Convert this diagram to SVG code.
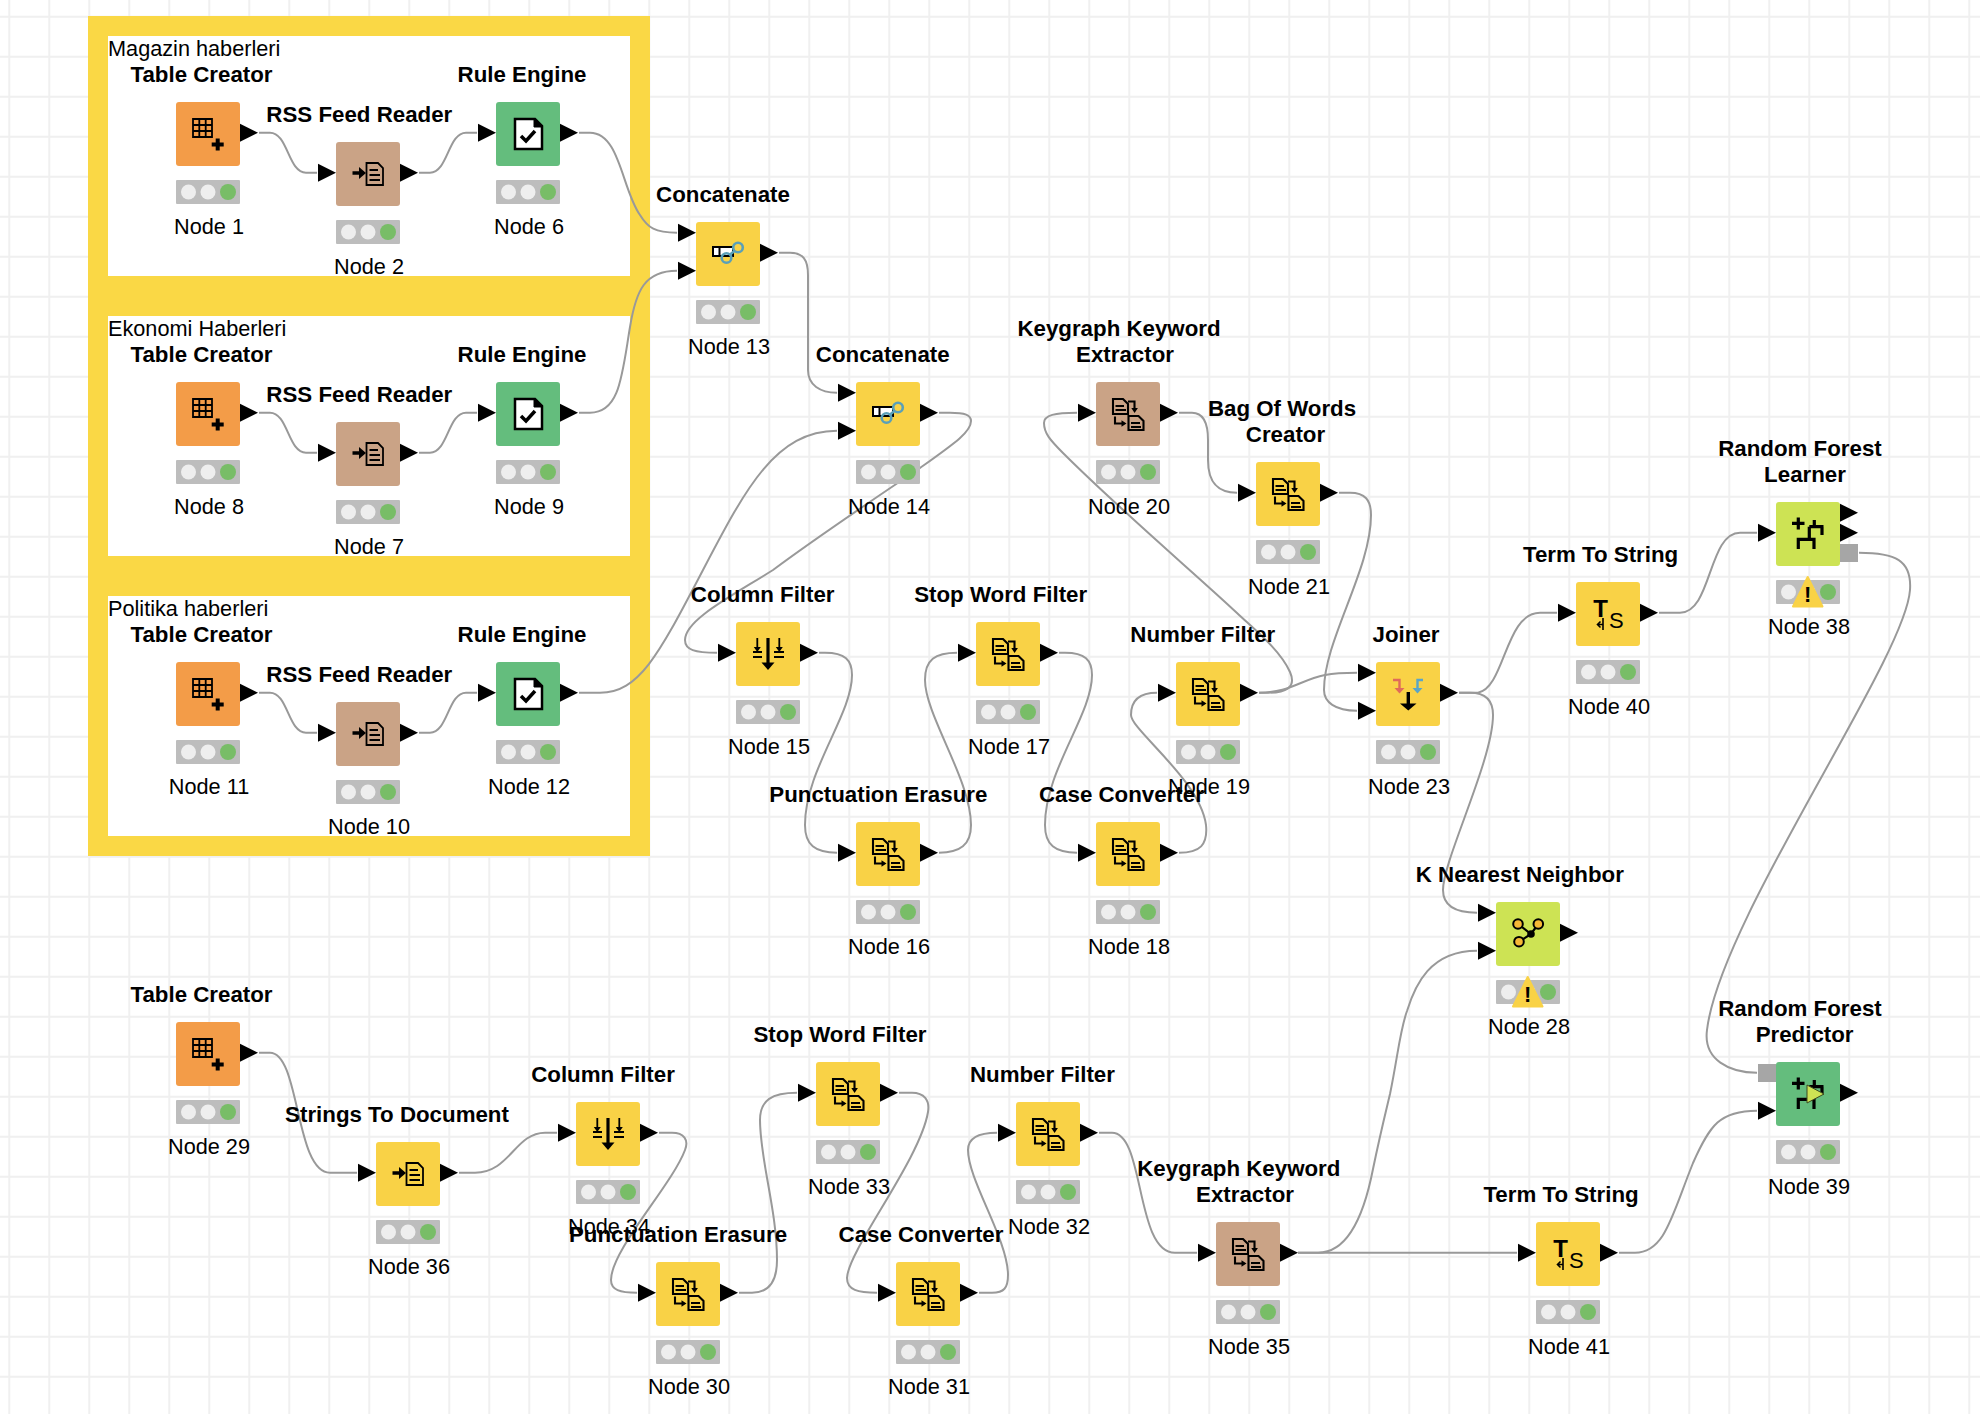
<svg xmlns="http://www.w3.org/2000/svg" width="1980" height="1414" viewBox="0 0 1980 1414">
<style>
text{font-family:"Liberation Sans",Arial,sans-serif;fill:#000}
.t{font-size:22.3px;font-weight:700;text-anchor:middle}
.n{font-size:21.7px;text-anchor:middle}
.a{font-size:21.7px}
.c{fill:none;stroke:#999;stroke-width:2}
.bg{width:64px;height:64px;rx:3px}
.ic{fill:none;stroke:#000;stroke-width:1.8}
.ort{fill:#f39c48}.tan{fill:#caa386}.grn{fill:#64bd7d}.yel{fill:#f9d246}.lim{fill:#cde354}
</style>
<defs>
<pattern id="grid" width="40" height="40" patternUnits="userSpaceOnUse"><path d="M9.3 0V40M0 16.7H40" stroke="#f0f0f0" stroke-width="2" fill="none"/></pattern>
<path id="out" d="M64 21.7L82 30.7L64 39.7Z"/>
<path id="in" d="M-18 21.7L0 30.7L-18 39.7Z"/>
<path id="in1" d="M-18 1.7L0 10.7L-18 19.7Z"/>
<path id="in2" d="M-18 39.7L0 48.7L-18 57.7Z"/>
<g id="st"><rect y="78" width="64" height="24" rx="1" fill="#bdbdbd"/><circle cx="12.5" cy="90" r="7.5" fill="#eee"/><circle cx="32" cy="90" r="7.5" fill="#eee"/><circle cx="52" cy="90" r="8" fill="#78bd67"/></g>
<g id="warn"><path d="M31.7 75L46.5 104.5H17Z" fill="#f9d246" stroke="#f9d246" stroke-width="2" stroke-linejoin="round"/><text x="31.7" y="100" font-size="22" font-weight="700" text-anchor="middle">!</text></g>
<g id="i-table"><path class="ic" d="M17 17H36V35H17ZM23.3 17V35M29.7 17V35M17 23H36M17 29H36" stroke-width="2"/><path d="M41.7 36.5V48.5M35.7 42.5H47.7" stroke="#000" stroke-width="4" fill="none"/></g>
<g id="i-read"><path class="ic" d="M30.5 21H42L47 26V43H30.5ZM33.5 28H42M33.5 33H44M33.5 38H44" stroke-width="2"/><path d="M16.5 31H24" stroke="#000" stroke-width="3.5"/><path d="M23 25L30 31L23 37Z"/></g>
<g id="i-rule"><path d="M19 17H39L46 24V47H19Z" fill="#fff" stroke="#000" stroke-width="2.5"/><path d="M38 17V25H46" fill="#000" stroke="#000"/><path d="M25 34L30 39L39 29" fill="none" stroke="#000" stroke-width="3.5"/></g>
<g id="i-conc"><rect x="17" y="25" width="20" height="9" fill="#fff" stroke="#000" stroke-width="2"/><path d="M23.5 25V34" stroke="#000" stroke-width="2"/><g fill="none" stroke="#5aa0b8" stroke-width="2.6"><circle cx="42" cy="25.5" r="4.8"/><circle cx="30.5" cy="36" r="4.8"/><path d="M33.5 33L39 28.5"/></g></g>
<g id="i-col"><path d="M32 16V42" stroke="#000" stroke-width="3.2"/><path d="M25.5 40.5H38.5L32 48Z"/><path class="ic" d="M21.3 16V26M43.3 16V26M17 30H26M38 30H48M17 35H26M38 35H48" stroke-width="1.8"/><path d="M17.8 25H24.8L21.3 30ZM39.8 25H46.8L43.3 30Z"/></g>
<g id="i-doc"><path class="ic" stroke-width="2.1" d="M17 17H27L32 22V32H17ZM19.5 24H28M19.5 28H30M32 19.5H38.5V27M32.5 34H42.5L47.5 39V48H32.5ZM35 41H44M35 45H45M19 34.5V41.5H26" style="stroke-width:2.1"/><path d="M35.3 26H41.9L38.6 31ZM25.5 38.2V44.8L30.500 41.5Z"/></g>
<g id="i-join"><path d="M17 18H23.5V27" fill="none" stroke="#e06a5a" stroke-width="2.4"/><path d="M18.5 26H28.5L23.5 31.5Z" fill="#e06a5a"/><path d="M47 18H41.5V27" fill="none" stroke="#5aa5c8" stroke-width="2.4"/><path d="M36.5 26H46.5L41.5 31.5Z" fill="#5aa5c8"/><path d="M32.3 30V43" stroke="#000" stroke-width="3.4"/><path d="M24 41.5H40.5L32.3 48.5Z"/></g>
<g id="i-ts"><text x="24.500" y="34.7" font-size="24" font-weight="700" text-anchor="middle">T</text><text x="40.300" y="46" font-size="22" text-anchor="middle">S</text><path class="ic" d="M27 36V42.5H21.5M24.5 39.5L21.5 42.5L24.5 45.500M27 42.500V48" style="stroke-width:1.6"/></g>
<g id="i-tree"><path d="M22.3 15.5V27.500M16 21.3H28.500M33.3 24.7H47.500M46 24.7V33M38.3 18V24.700M33.3 24.7V37.3M22.3 47V37.300H38V47" fill="none" stroke="#000" stroke-width="3.2"/></g>
<g id="i-knn"><path d="M22 22L35 32L42.3 22M23 39.7L35 32" stroke="#000" stroke-width="2.2" fill="none"/><circle cx="35" cy="32" r="3.8"/><g fill="#f5b836" stroke="#000" stroke-width="2"><circle cx="22" cy="22" r="4.8"/><circle cx="42.3" cy="22" r="4.8"/><circle cx="23" cy="39.7" r="4.8"/></g></g>
</defs>
<rect width="1980" height="1414" fill="#fff"/>
<rect width="1980" height="1414" fill="url(#grid)"/>
<g id="annotations">
<rect x="88" y="16" width="562" height="840" fill="#fad845"/>
<rect x="108" y="36" width="522" height="240" fill="#fff"/>
<rect x="108" y="316" width="522" height="240" fill="#fff"/>
<rect x="108" y="596" width="522" height="240" fill="#fff"/>
<text class="a" x="108" y="55.500">Magazin haberleri</text>
<text class="a" x="108" y="335.500">Ekonomi Haberleri</text>
<text class="a" x="108" y="615.500">Politika haberleri</text>
</g>
<g id="connectors">
<path class="c" d="M259 132.700H270C288 132.700 288 172.700 306 172.700H317"/>
<path class="c" d="M419 172.700H430C448 172.700 448 132.700 466 132.700H477"/>
<path class="c" d="M259 412.700H270C288 412.700 288 452.700 306 452.700H317"/>
<path class="c" d="M419 452.700H430C448 452.700 448 412.700 466 412.700H477"/>
<path class="c" d="M259 692.700H270C288 692.700 288 732.700 306 732.700H317"/>
<path class="c" d="M419 732.700H430C448 732.700 448 692.700 466 692.700H477"/>
<path class="c" d="M579 132.700H590C620 132.700 622 190 640 215C648 228 655 232.700 677 232.700"/>
<path class="c" d="M579 412.700H590C620 412.700 622 375 630 327C636 290 645 270.700 677 270.700"/>
<path class="c" d="M579 692.700H600C640 692.700 660 652 703 570C745 490 775 430.700 837 430.700"/>
<path class="c" d="M779 252.700H790C803 252.700 808 260 808 275V370C808 385 820 392.700 837 392.700"/>
<path class="c" d="M939 412.700H950C965 412.700 971 415 971 421C971 432 955 443 920 468C880 495 820 535 773 570C730 597 685 620 685 640C685 650 695 652.700 717 652.700"/>
<path class="c" d="M819 652.700H825C845 652.700 852 660 852 675C852 715 805 770 805 825C805 845 815 852.700 837 852.700"/>
<path class="c" d="M939 852.700C960 852.700 971 845 971 825C971 780 925 715 925 680C925 660 935 652.700 957 652.700"/>
<path class="c" d="M1059 652.700H1065C1085 652.700 1092 660 1092 675C1092 715 1045 770 1045 825C1045 845 1055 852.700 1077 852.700"/>
<path class="c" d="M1179 852.700C1200 852.700 1208 845 1206 825C1200 780 1131 730 1131 715C1131 700 1140 692.700 1157 692.700"/>
<path class="c" d="M1259 692.700C1290 692.700 1300 680 1325 675C1335 673 1345 672.700 1357 672.700"/>
<path class="c" d="M1259 692.700H1268C1285 692.700 1297 688 1290 672C1280 650 1255 630 1237 613C1200 578 1120 510 1063 453C1050 440 1044 433 1044 423C1044 415 1055 412.700 1077 412.700"/>
<path class="c" d="M1179 412.700H1192C1205 412.700 1208 425 1208 440V460C1208 485 1220 492.700 1237 492.700"/>
<path class="c" d="M1339 492.700H1350C1365 492.700 1371 500 1371 515C1371 570 1324 640 1324 690C1324 702 1335 710.700 1357 710.700"/>
<path class="c" d="M1459 692.700H1478C1505 688 1505 612.700 1540 612.700H1557"/>
<path class="c" d="M1459 692.700H1470C1485 692.700 1493 700 1493 715C1493 760 1443 860 1443 890C1443 905 1455 912.700 1477 912.700"/>
<path class="c" d="M1659 612.700H1680C1712 612.700 1708 532.700 1740 532.700H1757"/>
<path class="c" d="M1859 552.700C1895 552.700 1912 560 1910 590C1905 660 1720 920 1707 1030C1703 1060 1730 1072.700 1757 1072.700"/>
<path class="c" d="M259 1052.700H270C300 1052.700 295 1172.700 330 1172.700H357"/>
<path class="c" d="M459 1172.700H475C510 1172.700 515 1132.700 545 1132.700H557"/>
<path class="c" d="M659 1132.700H672C684 1132.700 689 1140 685 1150C672 1185 611 1250 611 1280C611 1290 620 1292.700 637 1292.700"/>
<path class="c" d="M739 1292.700H752C770 1292.700 777 1280 777 1260C777 1210 760 1160 760 1120C760 1100 772 1092.700 797 1092.700"/>
<path class="c" d="M899 1092.700H912C924 1092.700 930 1100 928 1112C920 1160 848 1250 847 1278C847 1290 858 1292.700 877 1292.700"/>
<path class="c" d="M979 1292.700H992C1004 1292.700 1008 1288 1008 1275C1008 1240 968 1180 968 1150C968 1138 978 1132.700 997 1132.700"/>
<path class="c" d="M1099 1132.700H1112C1145 1132.700 1135 1252.700 1175 1252.700H1197"/>
<path class="c" d="M1298 1252.700H1517"/>
<path class="c" d="M1298 1252.700H1318C1350 1252.700 1365 1210 1373 1169C1380 1135 1385 1115 1390 1094C1398 1055 1400 1030 1407 1011C1415 985 1430 950.700 1477 950.700"/>
<path class="c" d="M1619 1252.700H1635C1665 1252.700 1672 1215 1693 1163C1710 1125 1720 1110.700 1757 1110.700"/>
</g>
<g id="n1" transform="translate(176 102)"><rect class="bg ort"/><use href="#i-table"/><use href="#out"/><use href="#st"/><text class="t" x="25.500" y="-20">Table Creator</text><text class="n" x="33" y="131.500">Node 1</text></g>
<g id="n2" transform="translate(336 142)"><rect class="bg tan"/><use href="#i-read"/><use href="#in"/><use href="#out"/><use href="#st"/><text class="t" x="23.300" y="-20">RSS Feed Reader</text><text class="n" x="33" y="131.500">Node 2</text></g>
<g id="n6" transform="translate(496 102)"><rect class="bg grn"/><use href="#i-rule"/><use href="#in"/><use href="#out"/><use href="#st"/><text class="t" x="26" y="-20">Rule Engine</text><text class="n" x="33" y="131.500">Node 6</text></g>
<g id="n8" transform="translate(176 382)"><rect class="bg ort"/><use href="#i-table"/><use href="#out"/><use href="#st"/><text class="t" x="25.500" y="-20">Table Creator</text><text class="n" x="33" y="131.500">Node 8</text></g>
<g id="n7" transform="translate(336 422)"><rect class="bg tan"/><use href="#i-read"/><use href="#in"/><use href="#out"/><use href="#st"/><text class="t" x="23.300" y="-20">RSS Feed Reader</text><text class="n" x="33" y="131.500">Node 7</text></g>
<g id="n9" transform="translate(496 382)"><rect class="bg grn"/><use href="#i-rule"/><use href="#in"/><use href="#out"/><use href="#st"/><text class="t" x="26" y="-20">Rule Engine</text><text class="n" x="33" y="131.500">Node 9</text></g>
<g id="n11" transform="translate(176 662)"><rect class="bg ort"/><use href="#i-table"/><use href="#out"/><use href="#st"/><text class="t" x="25.500" y="-20">Table Creator</text><text class="n" x="33" y="131.500">Node 11</text></g>
<g id="n10" transform="translate(336 702)"><rect class="bg tan"/><use href="#i-read"/><use href="#in"/><use href="#out"/><use href="#st"/><text class="t" x="23.300" y="-20">RSS Feed Reader</text><text class="n" x="33" y="131.500">Node 10</text></g>
<g id="n12" transform="translate(496 662)"><rect class="bg grn"/><use href="#i-rule"/><use href="#in"/><use href="#out"/><use href="#st"/><text class="t" x="26" y="-20">Rule Engine</text><text class="n" x="33" y="131.500">Node 12</text></g>
<g id="n13" transform="translate(696 222)"><rect class="bg yel"/><use href="#i-conc"/><use href="#in1"/><use href="#in2"/><use href="#out"/><use href="#st"/><text class="t" x="27" y="-20">Concatenate</text><text class="n" x="33" y="131.500">Node 13</text></g>
<g id="n14" transform="translate(856 382)"><rect class="bg yel"/><use href="#i-conc"/><use href="#in1"/><use href="#in2"/><use href="#out"/><use href="#st"/><text class="t" x="26.700" y="-20">Concatenate</text><text class="n" x="33" y="131.500">Node 14</text></g>
<g id="n15" transform="translate(736 622)"><rect class="bg yel"/><use href="#i-col"/><use href="#in"/><use href="#out"/><use href="#st"/><text class="t" x="26.700" y="-20">Column Filter</text><text class="n" x="33" y="131.500">Node 15</text></g>
<g id="n16" transform="translate(856 822)"><rect class="bg yel"/><use href="#i-doc"/><use href="#in"/><use href="#out"/><use href="#st"/><text class="t" x="22.300" y="-20">Punctuation Erasure</text><text class="n" x="33" y="131.500">Node 16</text></g>
<g id="n17" transform="translate(976 622)"><rect class="bg yel"/><use href="#i-doc"/><use href="#in"/><use href="#out"/><use href="#st"/><text class="t" x="24.700" y="-20">Stop Word Filter</text><text class="n" x="33" y="131.500">Node 17</text></g>
<g id="n18" transform="translate(1096 822)"><rect class="bg yel"/><use href="#i-doc"/><use href="#in"/><use href="#out"/><use href="#st"/><text class="t" x="25.400" y="-20">Case Converter</text><text class="n" x="33" y="131.500">Node 18</text></g>
<g id="n19" transform="translate(1176 662)"><rect class="bg yel"/><use href="#i-doc"/><use href="#in"/><use href="#out"/><use href="#st"/><text class="t" x="26.800" y="-20">Number Filter</text><text class="n" x="33" y="131.500">Node 19</text></g>
<g id="n20" transform="translate(1096 382)"><rect class="bg tan"/><use href="#i-doc"/><use href="#in"/><use href="#out"/><use href="#st"/><text class="t" x="23" y="-46.500">Keygraph Keyword</text><text class="t" x="29" y="-20">Extractor</text><text class="n" x="33" y="131.500">Node 20</text></g>
<g id="n21" transform="translate(1256 462)"><rect class="bg yel"/><use href="#i-doc"/><use href="#in"/><use href="#out"/><use href="#st"/><text class="t" x="26" y="-46.500">Bag Of Words</text><text class="t" x="29.500" y="-20">Creator</text><text class="n" x="33" y="131.500">Node 21</text></g>
<g id="n23" transform="translate(1376 662)"><rect class="bg yel"/><use href="#i-join"/><use href="#in1"/><use href="#in2"/><use href="#out"/><use href="#st"/><text class="t" x="30" y="-20">Joiner</text><text class="n" x="33" y="131.500">Node 23</text></g>
<g id="n40" transform="translate(1576 582)"><rect class="bg yel"/><use href="#i-ts"/><use href="#in"/><use href="#out"/><use href="#st"/><text class="t" x="24.600" y="-20">Term To String</text><text class="n" x="33" y="131.500">Node 40</text></g>
<g id="n38" transform="translate(1776 502)"><rect class="bg lim"/><use href="#i-tree"/><use href="#in"/><path d="M64 1.700L82 10.700L64 19.700Z"/><use href="#out"/><rect x="64" y="42" width="18" height="18" fill="#a6a6a6"/><use href="#st"/><use href="#warn"/><text class="t" x="24" y="-46.500">Random Forest</text><text class="t" x="29" y="-20">Learner</text><text class="n" x="33" y="131.500">Node 38</text></g>
<g id="n28" transform="translate(1496 902)"><rect class="bg lim"/><use href="#i-knn"/><use href="#in1"/><use href="#in2"/><use href="#out"/><use href="#st"/><use href="#warn"/><text class="t" x="23.800" y="-20">K Nearest Neighbor</text><text class="n" x="33" y="131.500">Node 28</text></g>
<g id="n39" transform="translate(1776 1062)"><rect x="-18" y="2" width="18" height="18" fill="#a6a6a6"/><rect class="bg grn"/><use href="#i-tree"/><path d="M31 23L48 32L31 41Z" fill="#cde354" stroke="#3c4a20" stroke-width="1"/><use href="#in2"/><use href="#out"/><use href="#st"/><text class="t" x="24" y="-46.500">Random Forest</text><text class="t" x="28.600" y="-20">Predictor</text><text class="n" x="33" y="131.500">Node 39</text></g>
<g id="n29" transform="translate(176 1022)"><rect class="bg ort"/><use href="#i-table"/><use href="#out"/><use href="#st"/><text class="t" x="25.500" y="-20">Table Creator</text><text class="n" x="33" y="131.500">Node 29</text></g>
<g id="n36" transform="translate(376 1142)"><rect class="bg yel"/><use href="#i-read"/><use href="#in"/><use href="#out"/><use href="#st"/><text class="t" x="21" y="-20">Strings To Document</text><text class="n" x="33" y="131.500">Node 36</text></g>
<g id="n34" transform="translate(576 1102)"><rect class="bg yel"/><use href="#i-col"/><use href="#in"/><use href="#out"/><use href="#st"/><text class="t" x="27" y="-20">Column Filter</text><text class="n" x="33" y="131.500">Node 34</text></g>
<g id="n30" transform="translate(656 1262)"><rect class="bg yel"/><use href="#i-doc"/><use href="#in"/><use href="#out"/><use href="#st"/><text class="t" x="22" y="-20">Punctuation Erasure</text><text class="n" x="33" y="131.500">Node 30</text></g>
<g id="n33" transform="translate(816 1062)"><rect class="bg yel"/><use href="#i-doc"/><use href="#in"/><use href="#out"/><use href="#st"/><text class="t" x="24" y="-20">Stop Word Filter</text><text class="n" x="33" y="131.500">Node 33</text></g>
<g id="n31" transform="translate(896 1262)"><rect class="bg yel"/><use href="#i-doc"/><use href="#in"/><use href="#out"/><use href="#st"/><text class="t" x="25" y="-20">Case Converter</text><text class="n" x="33" y="131.500">Node 31</text></g>
<g id="n32" transform="translate(1016 1102)"><rect class="bg yel"/><use href="#i-doc"/><use href="#in"/><use href="#out"/><use href="#st"/><text class="t" x="26.400" y="-20">Number Filter</text><text class="n" x="33" y="131.500">Node 32</text></g>
<g id="n35" transform="translate(1216 1222)"><rect class="bg tan"/><use href="#i-doc"/><use href="#in"/><use href="#out"/><use href="#st"/><text class="t" x="22.800" y="-46.500">Keygraph Keyword</text><text class="t" x="29" y="-20">Extractor</text><text class="n" x="33" y="131.500">Node 35</text></g>
<g id="n41" transform="translate(1536 1222)"><rect class="bg yel"/><use href="#i-ts"/><use href="#in"/><use href="#out"/><use href="#st"/><text class="t" x="25" y="-20">Term To String</text><text class="n" x="33" y="131.500">Node 41</text></g>
</svg>
